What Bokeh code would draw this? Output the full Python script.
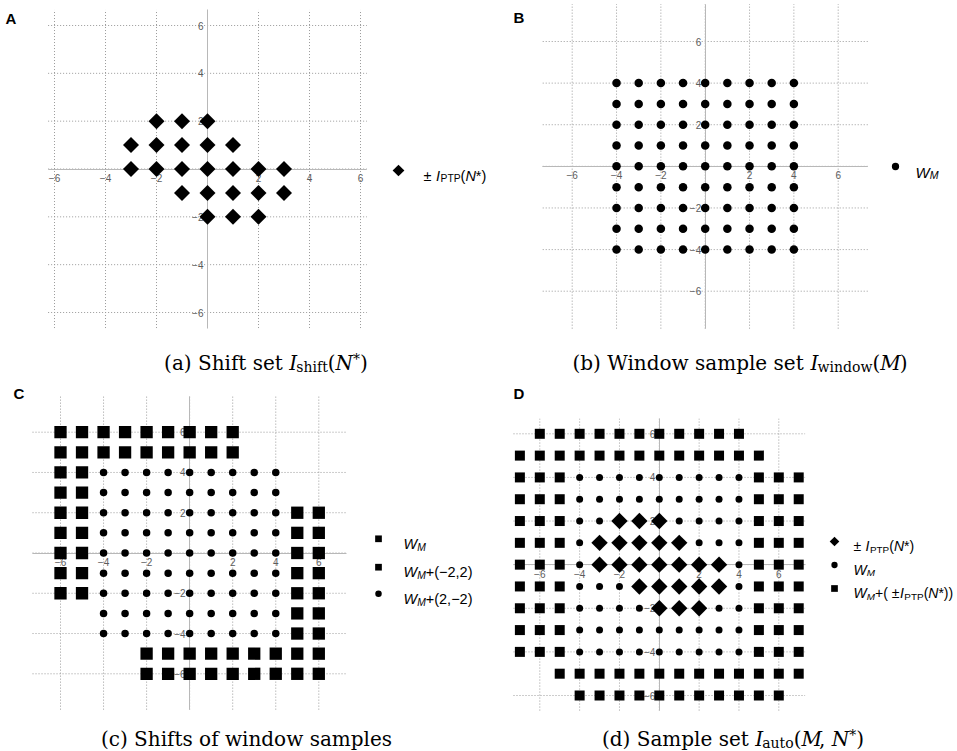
import numpy as np
from bokeh.plotting import figure
from bokeh.models import Range1d, LinearAxis, FixedTicker, ColumnDataSource
from bokeh.embed import file_html
from bokeh.resources import INLINE

# ---------------- data ----------------
grid_ticks = [-6, -4, -2, 0, 2, 4, 6]
axis_ticks = [-6, -4, -2, 2, 4, 6]
axis_tick_labels = ["\u22126", "\u22124", "\u22122", "2", "4", "6"]

# shift set  ± I_PTP(N*)  (panel A)
shift_x = [-2, -1, 0,
           -3, -2, -1, 0, 1,
           -3, -2, -1, 0, 1, 2, 3,
           -1, 0, 1, 2, 3,
           0, 1, 2]
shift_y = [2, 2, 2,
           1, 1, 1, 1, 1,
           0, 0, 0, 0, 0, 0, 0,
           -1, -1, -1, -1, -1,
           -2, -2, -2]

# window samples W_M : 9 x 9 grid (panel B)
window_coords = [-4, -3, -2, -1, 0, 1, 2, 3, 4]

# the two example shifts of panel C
example_shift_x = [-2, 2]
example_shift_y = [2, -2]

# ---------------- derived sets ----------------
win_x = [x for y in window_coords[::-1] for x in window_coords]
win_y = [y for y in window_coords[::-1] for x in window_coords]
win_set = set(zip(win_x, win_y))


def shifted_outside(dxs, dys):
    pts, seen = [], set()
    for dx, dy in zip(dxs, dys):
        for wx, wy in zip(win_x, win_y):
            q = (wx + dx, wy + dy)
            if q not in win_set and q not in seen:
                seen.add(q)
                pts.append(q)
    return [q[0] for q in pts], [q[1] for q in pts]


c_sq_x, c_sq_y = shifted_outside(example_shift_x, example_shift_y)
d_sq_x, d_sq_y = shifted_outside(shift_x, shift_y)

# ---------------- page geometry (page pixels) ----------------
X0, Y0 = 0, 0
W, H = 957, 751
panels = {
    "A": dict(x_m6=54.0, x_p6=360.0, y_p6=25.0, y_m6=312.0, ext_x=6.25, ext_y=6.65),
    "B": dict(x_m6=571.7, x_p6=837.7, y_p6=41.0, y_m6=290.7, ext_x=7.33, ext_y=7.8),
    "C": dict(x_m6=60.0, x_p6=318.3, y_p6=431.7, y_m6=673.3, ext_x=7.3, ext_y=7.78),
    "D": dict(x_m6=539.3, x_p6=778.3, y_p6=433.3, y_m6=695.0, ext_x=7.32, ext_y=6.69),
}

p = figure(width=W, height=H,
           x_range=Range1d(X0, X0 + W), y_range=Range1d(Y0 + H, Y0),
           x_axis_type=None, y_axis_type=None,
           toolbar_location=None, output_backend="svg", min_border=0)
p.outline_line_color = None
p.background_fill_color = "white"
p.border_fill_color = "white"

GRID_COLOR = "#9a9a9a"
AXIS_COLOR = "#b8b8b8"
TICK_COLOR = "#5c5c5c"
SANS = "Liberation Sans"
SERIF = "DejaVu Serif"

for name, c in panels.items():
    sx = (c["x_p6"] - c["x_m6"]) / 12.0
    sy = (c["y_m6"] - c["y_p6"]) / 12.0
    xs = -6 - (c["x_m6"] - X0) / sx
    xe = -6 + (X0 + W - c["x_m6"]) / sx
    yt = 6 + (c["y_p6"] - Y0) / sy
    yb = 6 - (Y0 + H - c["y_p6"]) / sy
    p.extra_x_ranges[name + "x"] = Range1d(xs, xe)
    p.extra_y_ranges[name + "y"] = Range1d(yb, yt)
    ex, ey = c["ext_x"], c["ext_y"]
    rn = dict(x_range_name=name + "x", y_range_name=name + "y")
    # dotted grid
    n = len(grid_ticks)
    p.segment(x0=grid_ticks, y0=[-ey] * n, x1=grid_ticks, y1=[ey] * n,
              line_color=GRID_COLOR, line_width=1, line_dash="1 2", level="underlay", **rn)
    p.segment(x0=[-ex] * n, y0=grid_ticks, x1=[ex] * n, y1=grid_ticks,
              line_color=GRID_COLOR, line_width=1, line_dash="1 2", level="underlay", **rn)
    # axes through the origin
    for side, bnd, standoff in (("below", (-ex, ex), 5), ("left", (-ey, ey), 4)):
        ax = LinearAxis(fixed_location=0, bounds=bnd,
                        ticker=FixedTicker(ticks=axis_ticks),
                        major_label_overrides=dict(zip(axis_ticks, axis_tick_labels)),
                        major_tick_in=0, major_tick_out=0, minor_tick_in=0, minor_tick_out=0,
                        major_label_standoff=standoff,
                        axis_line_color=AXIS_COLOR, axis_line_width=1,
                        major_label_text_font=SANS, major_label_text_font_size="10px",
                        major_label_text_color=TICK_COLOR, level="underlay", **rn)
        p.add_layout(ax, side)


def rn(name):
    return dict(x_range_name=name + "x", y_range_name=name + "y")


K = "#000000"
# panel A
p.scatter(shift_x, shift_y, marker="square", angle=np.pi / 4, size=11.3,
          fill_color=K, line_color=None, **rn("A"))
# panel B
p.scatter(win_x, win_y, marker="circle", size=8.5, fill_color=K, line_color=None, **rn("B"))
# panel C
p.scatter(c_sq_x, c_sq_y, marker="square", size=12.3, fill_color=K, line_color=None, **rn("C"))
p.scatter(win_x, win_y, marker="circle", size=7.5, fill_color=K, line_color=None, **rn("C"))
# panel D
p.scatter(d_sq_x, d_sq_y, marker="square", size=10, fill_color=K, line_color=None, **rn("D"))
p.scatter(win_x, win_y, marker="circle", size=7, fill_color=K, line_color=None, **rn("D"))
p.scatter(shift_x, shift_y, marker="square", angle=np.pi / 4, size=11.6,
          fill_color=K, line_color=None, **rn("D"))

# ---------------- legend keys (page pixel coordinates) ----------------
leg = dict(x=[398, 895, 378, 378, 378, 834, 834, 834],
           y=[170, 166, 538.3, 566.7, 593.3, 541, 564.5, 588],
           marker=["square", "circle", "square", "square", "circle", "square", "circle", "square"],
           size=[8.3, 7.3, 6.7, 6.7, 6.5, 6.8, 6.3, 6.7],
           angle=[np.pi / 4, 0, 0, 0, 0, np.pi / 4, 0, 0])
p.scatter(x="x", y="y", marker="marker", size="size", angle="angle",
          source=ColumnDataSource(leg), fill_color=K, line_color=None)

# ---------------- texts ----------------
SANS_W = {' ': .278, '\u00b1': .584, 'I': .278, 'P': .667, 'T': .611, '(': .333, ')': .333,
          'N': .722, '*': .389, 'W': .944, 'M': .833, '+': .584, '\u2212': .584, '2': .556,
          ',': .278}
SERIF_W = {' ': .318, '(': .390, ')': .390, '*': .5, ',': .318, 'a': .596, 'b': .640,
           'c': .560, 'd': .640, 'e': .592, 'f': .370, 'h': .644, 'i': .320, 'l': .320,
           'm': .948, 'n': .644, 'o': .602, 'p': .640, 's': .513, 't': .402, 'u': .644,
           'w': .856, 'S': .685, 'W': 1.03, 'I': .38, 'N': .75, 'M': .88}


def run_width(t, fam, size):
    table = SANS_W if fam == SANS else SERIF_W
    return sum(table.get(ch, 0.55) for ch in t) * size


txt = dict(x=[], y=[], text=[], ffont=[], fstyle=[], fsize=[])


def add_runs(runs, x, base, align="left"):
    total = sum(run_width(r[0], r[1], r[3]) + (r[5] if len(r) > 5 else 0) for r in runs)
    cx = x - total / 2.0 if align == "center" else x
    for r in runs:
        t, f, st, s, dy = r[:5]
        pre = r[5] if len(r) > 5 else 0
        cx += pre
        txt["x"].append(cx)
        txt["y"].append(base + dy)
        txt["text"].append(t.rstrip())
        txt["ffont"].append(f)
        txt["fstyle"].append(st)
        txt["fsize"].append("%.1fpx" % s)
        cx += run_width(t, f, s)


def sans_runs(parts, fs):
    sub = fs * 0.71
    out = []
    for t, kind in parts:
        if kind == "n":
            out.append((t, SANS, "normal", fs, 0))
        elif kind == "i":
            out.append((t, SANS, "italic", fs, 0))
        elif kind == "s":
            out.append((t, SANS, "normal", sub, fs * 0.22, 0.5))
        elif kind == "si":
            out.append((t, SANS, "italic", sub, fs * 0.22))
    return out


IPTP = [("\u00b1 ", "n"), ("I", "i"), ("PTP", "s"), ("(", "n"), ("N", "i"), ("*)", "n")]
WM = [("W", "i"), ("M", "si")]

# legend labels
add_runs(sans_runs(IPTP, 14.5), 423, 175)
add_runs(sans_runs(WM, 15), 915, 171.5)
add_runs(sans_runs(WM, 14.5), 403, 543.5)
add_runs(sans_runs(WM + [("+(\u22122,2)", "n")], 14.5), 403, 571.9)
add_runs(sans_runs(WM + [("+(2,\u22122)", "n")], 14.5), 403, 598.5)
add_runs(sans_runs(IPTP, 14), 853, 545.8)
add_runs(sans_runs(WM, 14), 853, 569.3)
add_runs(sans_runs(WM + [("+( \u00b1", "n"), ("I", "i"), ("PTP", "s"), ("(", "n"),
                         ("N", "i"), ("*))", "n")], 14), 853, 592.8)

# panel letters
for letter, lx, ly in (("A", 5, 18), ("B", 513, 17), ("C", 13, 393), ("D", 513, 393)):
    add_runs([(letter, SANS, "bold", 15, 0)], lx, ly)

# captions
CF, CS = 20, 14


def cap(parts):
    out = []
    for t, kind in parts:
        if kind == "n":
            out.append((t, SERIF, "normal", CF, 0))
        elif kind == "np":
            out.append((t, SERIF, "normal", CF, 0, 2))
        elif kind == "i":
            out.append((t, SERIF, "italic", CF, 0))
        elif kind == "s":
            out.append((t, SERIF, "normal", CS, 4, -0.5))
        elif kind == "sup":
            out.append((t, SERIF, "normal", CS, -4, 2.5))
    return out


add_runs(cap([("(a) Shift set ", "n"), ("I", "i"), ("shift", "s"), ("(", "n"), ("N", "i"),
              ("*", "sup"), (")", "n")]), 265.5, 362, "center")
add_runs(cap([("(b) Window sample set ", "n"), ("I", "i"), ("window", "s"), ("(", "n"),
              ("M", "i"), (")", "np")]), 739.5, 362, "center")
add_runs(cap([("(c) Shifts of window samples", "n")]), 246, 738, "center")
add_runs(cap([("(d) Sample set ", "n"), ("I", "i"), ("auto", "s"), ("(", "n"), ("M", "i"),
              (", ", "n"), ("N", "i"), ("*", "sup"), (")", "n")]), 732.5, 738, "center")

p.text(x="x", y="y", text="text", source=ColumnDataSource(txt),
       text_font="ffont", text_font_style="fstyle", text_font_size="fsize",
       text_color=K, text_align="left", text_baseline="alphabetic")

open("out.html", "w").write(file_html(p, INLINE))
